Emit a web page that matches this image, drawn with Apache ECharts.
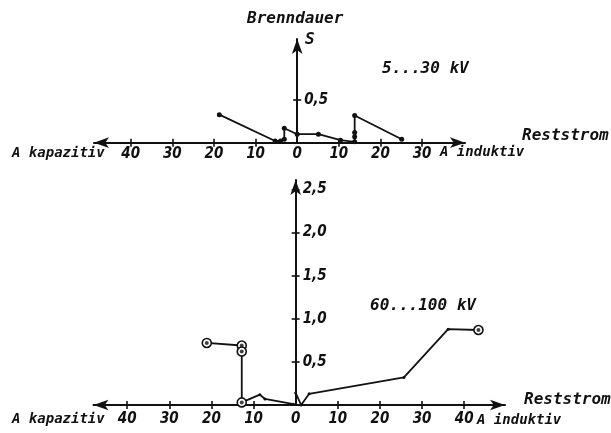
<!DOCTYPE html>
<html>
<head>
<meta charset="utf-8">
<script src="https://cdn.jsdelivr.net/npm/echarts@6/dist/echarts.min.js"></script>
<style>
  html, body { margin: 0; padding: 0; background: #fff; }
  #chart { width: 611px; height: 433px; }
</style>
</head>
<body>
<div id="chart"></div>
<script>
// Brenndauer (s) over Reststrom (A), negative current = kapazitiv, positive = induktiv

// 5...30 kV network
const lowCurrent  = [-18.7, -5.3, -4.0, -3.1, -3.1, 0.0, 5.1, 10.4, 13.8, 13.8, 13.8, 13.8, 25.1];
const lowDuration = [0.33, 0.02, 0.02, 0.04, 0.17, 0.10, 0.10, 0.03, 0.01, 0.07, 0.12, 0.32, 0.04];

// 60...100 kV network, capacitive branch
const capCurrent  = [-21.1, -12.8, -12.8, -12.8, -8.5, -7.3, -0.5];
const capDuration = [0.72, 0.69, 0.62, 0.03, 0.12, 0.07, 0.01];
const capRinged   = [true, true, true, true, false, false, false];

// 60...100 kV network, inductive branch
const indCurrent  = [0.0, 1.3, 3.2, 25.7, 36.2, 43.4];
const indDuration = [0.14, 0.0, 0.13, 0.32, 0.88, 0.87];
const indRinged   = [false, false, false, false, false, true];

// tick positions and labels
const lowXTicks  = [-40, -30, -20, -10, 10, 20, 30];
const lowXLabels = [-40, -30, -20, -10, 0, 10, 20, 30];
const highXTicks  = [-40, -30, -20, -10, 10, 20, 30, 40];
const highXLabels = [-40, -30, -20, -10, 0, 10, 20, 30, 40];
const lowYTicks  = [0.5];
const highYTicks = [0.5, 1.0, 1.5, 2.0, 2.5];

// axis extents
const lowXRange  = [-48.8, 40.3];
const highXRange = [-48.0, 49.7];
const lowYMax  = 1.22;
const highYMax = 2.61;

const INK = '#111';
const wordFont = '"DejaVu Sans Mono", monospace';
const numFont = '"Liberation Sans Narrow", "DejaVu Sans Condensed", sans-serif';

function pairs(xs, ys) { return xs.map((x, i) => [x, ys[i]]); }

function ringedData(xs, ys, rings) {
  return xs.map((x, i) => rings[i]
    ? { value: [x, ys[i]], symbol: 'circle', symbolSize: 9,
        itemStyle: { color: '#fff', borderColor: INK, borderWidth: 1.6 } }
    : { value: [x, ys[i]], symbol: 'circle', symbolSize: 3 });
}
function ringCentres(xs, ys, rings) {
  return xs.map((x, i) => [x, ys[i]]).filter((p, i) => rings[i]);
}

const tickStyle = { color: INK, width: 1.6 };

// horizontal current axis: main axis (line, labels, ticks below) plus a
// twin that only draws the upper half of each tick, so ticks cross the line
function currentAxes(grid, range, ticks, labels, margin) {
  return [
    {
      gridIndex: grid, type: 'value', min: range[0], max: range[1], position: 'bottom',
      axisLine: { onZero: true, symbol: ['arrow', 'arrow'], symbolSize: [8, 15],
                  lineStyle: { color: INK, width: 2 } },
      axisTick: { customValues: ticks, length: 4, lineStyle: tickStyle },
      axisLabel: { customValues: labels, margin: margin, color: INK,
                   fontFamily: numFont, fontStyle: 'italic', fontWeight: 'bold', fontSize: 15,
                   formatter: v => String(Math.abs(v)) },
      splitLine: { show: false }
    },
    {
      gridIndex: grid, type: 'value', min: range[0], max: range[1], position: 'top',
      axisLine: { show: false, onZero: true },
      axisTick: { customValues: ticks, length: 4, lineStyle: tickStyle },
      axisLabel: { show: false },
      splitLine: { show: false }
    }
  ];
}

// the duration axis lives in a narrow grid whose left edge sits on zero current
function durationAxes(grid, max, ticks) {
  return [
    {
      gridIndex: grid, type: 'value', min: 0, max: max, position: 'left',
      axisLine: { onZero: false, symbol: ['none', 'arrow'], symbolSize: [8, 15],
                  lineStyle: { color: INK, width: 2 } },
      axisTick: { customValues: ticks, length: 4, inside: false, lineStyle: tickStyle },
      axisLabel: { customValues: ticks, inside: true, margin: 7, color: INK,
                   fontFamily: numFont, fontStyle: 'italic', fontWeight: 'bold', fontSize: 15,
                   formatter: v => v.toFixed(1).replace('.', ',') },
      splitLine: { show: false }
    },
    {
      gridIndex: grid, type: 'value', min: 0, max: max, position: 'left',
      axisLine: { show: false, onZero: false },
      axisTick: { customValues: ticks, length: 4, inside: true, lineStyle: tickStyle },
      axisLabel: { show: false },
      splitLine: { show: false }
    }
  ];
}

function hiddenValueAxis(grid, min, max, position) {
  return { gridIndex: grid, type: 'value', min: min, max: max, show: false, position: position };
}

function word(text, x, y, size) {
  return {
    type: 'text', x: x, y: y, silent: true,
    style: { text: text, fill: INK, font: 'italic bold ' + size + 'px ' + wordFont,
             textAlign: 'left', align: 'left', textVerticalAlign: 'middle', verticalAlign: 'middle' }
  };
}

const lineStyle = { color: INK, width: 1.8 };

// plot grids: 0 = 5...30 kV, 1 = 60...100 kV; grids 2/3 carry the duration axes
const lowGrid  = { left: 94, right: 146, top: 39, bottom: 290.3 };
const highGrid = { left: 93.5, right: 106, top: 180, bottom: 28 };
function zeroX(g, range) {
  const w = 611 - g.left - g.right;
  return g.left + (0 - range[0]) / (range[1] - range[0]) * w;
}

const option = {
  backgroundColor: '#fff',
  animation: false,
  grid: [
    Object.assign({ containLabel: false }, lowGrid),
    Object.assign({ containLabel: false }, highGrid),
    { left: zeroX(lowGrid, lowXRange), width: 20, top: lowGrid.top, bottom: lowGrid.bottom, containLabel: false },
    { left: zeroX(highGrid, highXRange), width: 20, top: highGrid.top, bottom: highGrid.bottom, containLabel: false }
  ],
  xAxis: [].concat(
    currentAxes(0, lowXRange, lowXTicks, lowXLabels, 4),   // 0, 1
    currentAxes(1, highXRange, highXTicks, highXLabels, 7), // 2, 3
    [hiddenValueAxis(2, 0, 1), hiddenValueAxis(3, 0, 1)]    // 4, 5
  ),
  yAxis: [].concat(
    // each plotting grid gets two hidden duration scales, one per current axis to sit on
    [hiddenValueAxis(0, 0, lowYMax, 'left'), hiddenValueAxis(0, 0, lowYMax, 'right'),    // 0, 1
     hiddenValueAxis(1, 0, highYMax, 'left'), hiddenValueAxis(1, 0, highYMax, 'right')], // 2, 3
    durationAxes(2, lowYMax, lowYTicks),   // 4, 5
    durationAxes(3, highYMax, highYTicks)  // 6, 7
  ),
  series: [
    {
      name: '5...30 kV', type: 'line', xAxisIndex: 0, yAxisIndex: 0,
      data: pairs(lowCurrent, lowDuration),
      symbol: 'circle', symbolSize: 5, showSymbol: true,
      lineStyle: lineStyle, itemStyle: { color: INK }, z: 5
    },
    {
      name: '60...100 kV kapazitiv', type: 'line', xAxisIndex: 2, yAxisIndex: 2,
      data: ringedData(capCurrent, capDuration, capRinged),
      showSymbol: true, lineStyle: lineStyle, itemStyle: { color: INK }, z: 5
    },
    {
      name: '60...100 kV induktiv', type: 'line', xAxisIndex: 2, yAxisIndex: 2,
      data: ringedData(indCurrent, indDuration, indRinged),
      showSymbol: true, lineStyle: lineStyle, itemStyle: { color: INK }, z: 5
    },
    {
      type: 'scatter', xAxisIndex: 2, yAxisIndex: 2,
      data: ringCentres(capCurrent, capDuration, capRinged)
        .concat(ringCentres(indCurrent, indDuration, indRinged)),
      symbol: 'circle', symbolSize: 4, itemStyle: { color: INK }, z: 6, silent: true
    }
  ],
  graphic: [
    word('Brenndauer', 247, 19, 16),
    word('S', 305, 40, 16),
    word('5...30 kV', 382, 69, 16),
    word('Reststrom', 522, 136, 16),
    word('A kapazitiv', 12, 153, 14),
    word('A induktiv', 440, 152, 14),
    word('60...100 kV', 370, 306, 16),
    word('Reststrom', 524, 400, 16),
    word('A kapazitiv', 12, 419, 14),
    word('A induktiv', 477, 420, 14)
  ]
};

const chart = echarts.init(document.getElementById('chart'), null, { renderer: 'canvas' });
chart.setOption(option);
</script>
</body>
</html>
